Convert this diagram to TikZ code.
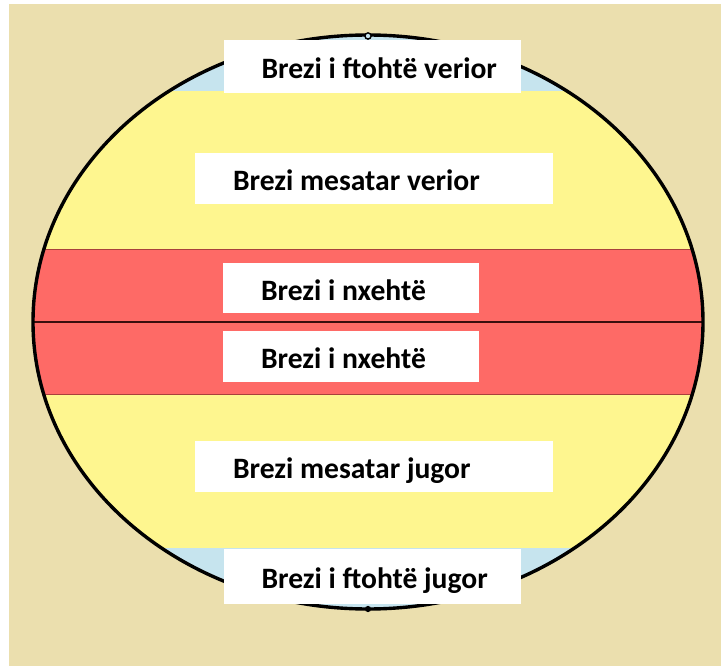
\documentclass[tikz,border=0pt]{standalone}
\usepackage{fontspec}
\setmainfont{Carlito}
\definecolor{sand}{HTML}{EBDFAE}
\definecolor{warmzone}{HTML}{FEF68F}
\definecolor{hotzone}{HTML}{FE6A66}
\definecolor{coldzone}{HTML}{C6E4EE}
\definecolor{bandedge}{HTML}{A8403C}
\definecolor{equatorline}{HTML}{3A0E0E}
\begin{document}
\begin{tikzpicture}
[x=1pt,y=-1pt,
  zonebox/.style={shape=rectangle,fill=white,inner sep=0pt},%
  zonetext/.style={inner sep=0pt,font=\fontsize{29.6}{34}\selectfont\bfseries},
  earthline/.style={line width=3.4pt,black}]
\useasboundingbox (0,0) rectangle (721,666);
\fill[white] (0,0) rectangle (721,666);
\fill[sand] (9,4) rectangle (721,666);
%% globe and climate zones
\coordinate (c) at (368,322);
\fill[warmzone] (c) ellipse [x radius=335, y radius=287];
\begin{scope}
  \clip (c) ellipse [x radius=335, y radius=287];
  \fill[coldzone] (0,0) rectangle (721,91);
  \fill[coldzone] (0,548) rectangle (721,666);
  \fill[hotzone] (0,249) rectangle (721,394);
  \draw[bandedge,line width=0.8pt] (0,249) -- (721,249) (0,394) -- (721,394);
  \draw[equatorline,line width=2.8pt] (0,322) -- (721,322);
\end{scope}
\draw[earthline] (c) ellipse [x radius=335, y radius=287];
\node (np) at (368,36) [shape=circle,draw,line width=1.4pt,fill=coldzone,inner sep=2.2pt] {};
\node (sp) at (368,609) [shape=circle,fill=black,inner sep=2.2pt] {};
%% labels
\foreach \name/\x/\y/\w/\h/\txt in {fn/372/67/297/53/Brezi i ftohtë verior,
  mn/374/179/358/51/Brezi mesatar verior, hn/351/288/256/50/Brezi i nxehtë,
  hs/351/356/256/51/Brezi i nxehtë, ms/374/466/358/51/Brezi mesatar jugor,
  fs/372/576/297/55/Brezi i ftohtë jugor}
{
  \node (\name) at (\x,\y) [zonebox,minimum width=\w pt,minimum height=\h pt] {};
  \node (\name t) at ([xshift=38pt,yshift=-12pt]\name.west) [zonetext,anchor=base west] {\txt};
}
\end{tikzpicture}
\end{document}
